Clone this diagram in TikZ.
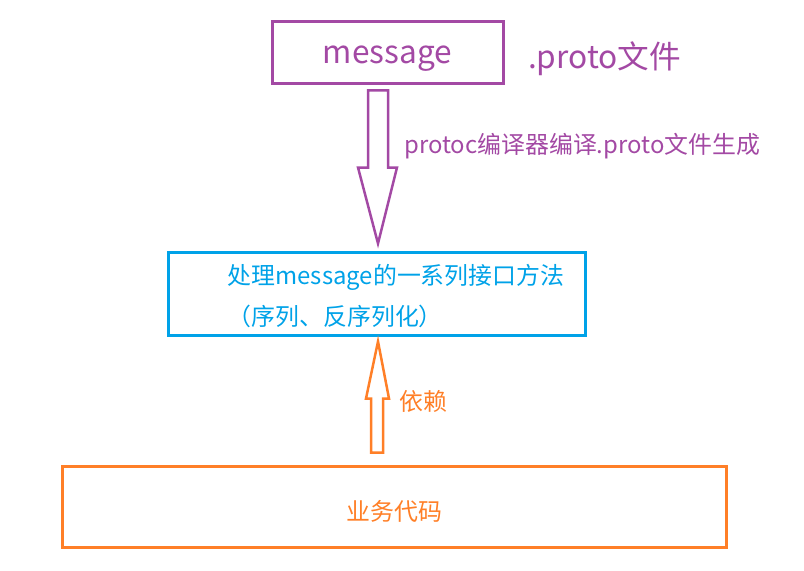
\documentclass[tikz,border=0pt]{standalone}
\usepackage{fontspec}
\setmainfont{Noto Sans CJK SC}
\usepackage{xcolor}
\usetikzlibrary{positioning,calc}
\definecolor{msgpurple}{HTML}{A349A4}
\definecolor{apiblue}{HTML}{00A2E8}
\definecolor{bizorange}{HTML}{FF7F27}

\begin{document}
\begin{tikzpicture}[x=0.3mm,y=-0.3mm,
  box/.style={draw,line width=0.9mm,inner sep=0pt},
  big/.style={font=\fontsize{27}{32}\selectfont},
  txt/.style={font=\fontsize{20.4}{35}\selectfont,inner sep=0pt,align=left},
  fat/.style={line width=0.75mm,line join=miter}
]
\useasboundingbox (0,0) rectangle (804,570);
% boxes
\node[box,big,draw=msgpurple,text=msgpurple,minimum width=69.3mm,minimum height=18.3mm] (msg) at (387.5,52.5) {\raisebox{-1.9mm}[\height][\depth]{message}};
\node[big,text=msgpurple,inner sep=0pt,right=7mm of msg,yshift=-2mm] (proto) {.proto文件};
\node[box,draw=apiblue,minimum width=125.1mm,minimum height=24.9mm] (iface) at (376.5,293.5) {};
\node[txt,text=apiblue,anchor=west] (ifacetxt) at ($(iface.west)+(61,3)$) {处理message的一系列接口方法\\（序列、反序列化）};
\node[box,txt,draw=bizorange,text=bizorange,minimum width=198.9mm,minimum height=24.3mm] (biz) at (394.5,506.5) {\raisebox{-1.5mm}[\height][\depth]{业务代码}};
% hollow arrows
\coordinate (dtip) at ($(iface.north)+(1.5,-7)$);
\coordinate (utip) at ($(iface.south)+(1.5,5)$);
\draw[fat,msgpurple] (dtip) -- ++(19,-76) -- ++(-9,0) -- ++(0,-77) -- ++(-20,0) -- ++(0,77) -- ++(-10,0) -- cycle;
\draw[fat,bizorange] (utip) -- ++(11,57) -- ++(-6,0) -- ++(0,54) -- ++(-12,0) -- ++(0,-54) -- ++(-5,0) -- cycle;
% labels
\node[txt,text=msgpurple,anchor=west] (gen) at (404,146) {protoc编译器编译.proto文件生成};
\node[txt,text=bizorange,anchor=west] (dep) at (399,401) {依赖};
\end{tikzpicture}
\end{document}
